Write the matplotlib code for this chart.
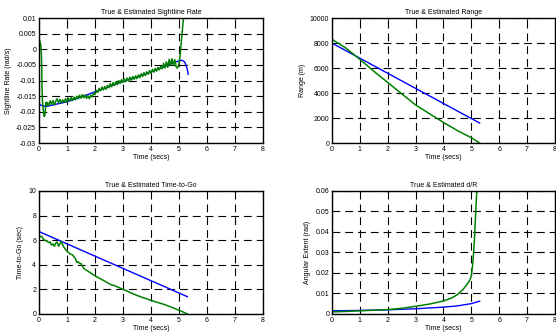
import matplotlib
matplotlib.use("Agg")
import matplotlib.pyplot as plt

plt.rcParams['font.family'] = ['Liberation Sans', 'DejaVu Sans']

# sightline rate
slr_true_t = [0, 0.02, 0.05, 0.07, 0.09, 0.1, 0.11, 0.13, 0.15, 0.17, 0.19, 0.21, 0.23, 0.25, 0.28,
              0.30, 0.35, 0.40, 0.45, 0.50, 0.55, 0.60, 0.65, 0.70, 0.75, 0.80, 0.85, 0.90, 0.95,
              1.00, 1.05, 1.10, 1.15, 1.20, 1.25, 1.30, 1.35, 1.40, 1.45, 1.50, 1.55, 1.60, 1.65,
              1.70, 1.75, 1.80, 1.85, 1.90, 1.95, 2.00, 2.05, 2.10, 2.15, 2.20, 2.25, 2.30, 2.35,
              2.40, 2.45, 2.50, 2.55, 2.60, 2.65, 2.70, 2.75, 2.80, 2.85, 2.90, 2.95, 3.00, 3.05,
              3.10, 3.15, 3.20, 3.25, 3.30, 3.35, 3.40, 3.45, 3.50, 3.55, 3.60, 3.65, 3.70, 3.75,
              3.80, 3.85, 3.90, 3.95, 4.00, 4.05, 4.10, 4.15, 4.20, 4.25, 4.30, 4.35, 4.40, 4.45,
              4.50, 4.55, 4.60, 4.65, 4.70, 4.75, 4.80, 4.85, 4.90, 4.95, 5.00, 5.03, 5.06, 5.10,
              5.14, 5.17]
slr_true = [0.0035, 0.003, 0.002, 0.001, -0.002, -0.006, -0.012, -0.017, -0.019, -0.0205, -0.0215,
            -0.021, -0.0195, -0.017, -0.0180,
            -0.0170, -0.0180, -0.0165, -0.0176, -0.0164, -0.0178, -0.0166, -0.0158, -0.0172, -0.0160,
            -0.0171, -0.0162, -0.0169, -0.0158, -0.0168, -0.0157, -0.0165, -0.0154, -0.0164, -0.0153,
            -0.0161, -0.0150, -0.0158, -0.0147, -0.0156, -0.0145, -0.0155, -0.0146, -0.0157, -0.0148,
            -0.0158, -0.0147, -0.0152, -0.0140, -0.0145, -0.0132, -0.0138, -0.0125, -0.0133, -0.0121,
            -0.0130, -0.0119, -0.0128, -0.0115, -0.0123, -0.0110, -0.0120, -0.0106, -0.0116, -0.0104,
            -0.0113, -0.0100, -0.0109, -0.0097, -0.0106, -0.0095, -0.0104, -0.0092, -0.0101, -0.0089,
            -0.0099, -0.0087, -0.0096, -0.0085, -0.0094, -0.0082, -0.0091, -0.0078, -0.0087, -0.0075,
            -0.0084, -0.0072, -0.0080, -0.0068, -0.0077, -0.0064, -0.0073, -0.0061, -0.0070, -0.0058,
            -0.0066, -0.0055, -0.0062, -0.0045, -0.0060, -0.0040, -0.0058, -0.0032, -0.0052, -0.0030,
            -0.0050, -0.0033, -0.0057, -0.0060, -0.0046, -0.003, 0.000, 0.004, 0.008, 0.011]
slr_est_t = [0, 0.1, 0.25, 0.5, 1, 1.5, 2, 2.5, 3, 3.5, 4, 4.5, 4.8, 5.0, 5.1, 5.2, 5.25, 5.3, 5.33]
slr_est = [-0.0175, -0.0180, -0.0183, -0.0178, -0.0168, -0.0153, -0.0136, -0.0119, -0.0103,
           -0.0089, -0.0072, -0.0055, -0.0043, -0.0037, -0.0035, -0.0040, -0.0050, -0.0065, -0.0080]

# range
rng_true_t = [0, 0.5, 1, 1.5, 2, 2.5, 3, 3.5, 4, 4.5, 5, 5.3]
rng_true = [8300, 7600, 6700, 5750, 4850, 3950, 3050, 2350, 1650, 1000, 430, 0]
rng_est_t = [0, 0, 5.3]
rng_est = [0, 8000, 1600]

# time-to-go
tgo_true_t = [0, 0.1, 0.15, 0.2, 0.3, 0.35, 0.4, 0.45, 0.5, 0.55, 0.6, 0.65, 0.7, 0.75, 0.8, 0.85,
              0.9, 1.0, 1.1, 1.2, 1.3, 1.35, 1.4, 1.45, 1.5, 1.6, 1.8, 2.0, 2.2, 2.4, 2.6, 2.7,
              2.8, 3.0, 3.2, 3.5, 4.0, 4.5, 5.0, 5.3]
tgo_true = [6.3, 6.3, 6.1, 6.0, 5.9, 5.8, 5.85, 5.6, 5.7, 5.5, 5.75, 5.85, 5.5, 5.7, 5.9, 5.6,
            5.4, 5.1, 4.9, 4.8, 4.5, 4.2, 4.25, 4.1, 4.1, 3.7, 3.4, 3.1, 2.85, 2.6, 2.35, 2.3,
            2.2, 2.0, 1.8, 1.5, 1.1, 0.75, 0.3, 0.0]
tgo_est_t = [0, 5.3]
tgo_est = [6.7, 1.4]

# angular extent d/R
ang_true_t = [0, 0.5, 1, 1.5, 2, 2.5, 3, 3.5, 4, 4.3, 4.5, 4.7, 4.85, 4.95, 5.0, 5.05, 5.1,
              5.13, 5.16, 5.19, 5.21]
ang_true = [0.001, 0.0012, 0.0015, 0.0018, 0.0021, 0.0027, 0.0037, 0.0048, 0.0063, 0.0078,
            0.0094, 0.0118, 0.0145, 0.0165, 0.0185, 0.024, 0.033, 0.041, 0.050, 0.058, 0.062]
ang_est_t = [0, 1, 2, 3, 4, 4.5, 5, 5.3]
ang_est = [0.0015, 0.0017, 0.002, 0.0025, 0.0033, 0.0039, 0.005, 0.0062]

BLUE = '#0000ff'
GREEN = '#008000'

fig = plt.figure(figsize=(5.56, 3.35), dpi=100)
boxes = [[0.070, 0.573, 0.403, 0.373], [0.597, 0.573, 0.401, 0.373],
         [0.070, 0.063, 0.403, 0.367], [0.597, 0.063, 0.401, 0.367]]

panels = [
    ("True & Estimated Sightline Rate", "Sightline Rate (rad/s)", slr_est_t, slr_est, slr_true_t, slr_true,
     (-0.03, 0.01), [-0.03, -0.025, -0.02, -0.015, -0.01, -0.005, 0, 0.005, 0.01],
     ['-0.03', '-0.025', '-0.02', '-0.015', '-0.01', '-0.005', '0', '0.005', '0.01']),
    ("True & Estimated Range", "Range (m)", rng_est_t, rng_est, rng_true_t, rng_true,
     (0, 10000), [0, 2000, 4000, 6000, 8000, 10000], ['0', '2000', '4000', '6000', '8000', '10000']),
    ("True & Estimated Time-to-Go", "Time-to-Go (sec)", tgo_est_t, tgo_est, tgo_true_t, tgo_true,
     (0, 10), [0, 2, 4, 6, 8, 10], ['0', '2', '4', '6', '8', '10']),
    ("True & Estimated d/R", "Angular Extent (rad)", ang_est_t, ang_est, ang_true_t, ang_true,
     (0, 0.06), [0, 0.01, 0.02, 0.03, 0.04, 0.05, 0.06],
     ['0', '0.01', '0.02', '0.03', '0.04', '0.05', '0.06']),
]

for box, (title, ylab, et, ev, tt, tv, ylim, yt, ytl) in zip(boxes, panels):
    ax = fig.add_axes(box)
    # estimate (blue) first, true (green) on top
    ax.plot(et, ev, color=BLUE, lw=1.0)
    ax.plot(tt, tv, color=GREEN, lw=1.1)
    ax.set_xlim(0, 8)
    ax.set_ylim(*ylim)
    ax.set_xticks(range(9))
    ax.set_yticks(yt)
    ax.set_yticklabels(ytl)
    ax.grid(True, color='black', linestyle=(0, (7, 4.5)), linewidth=0.8)
    ax.set_axisbelow(True)
    ax.tick_params(direction='in', length=2, width=0.6, labelsize=5, pad=2, top=True, right=True)
    for s in ax.spines.values():
        s.set_linewidth(1.0)
    ax.set_title(title, fontsize=5, pad=3)
    ax.set_xlabel("Time (secs)", fontsize=5, labelpad=1)
    ax.set_ylabel(ylab, fontsize=5, labelpad=3)

fig.savefig("out.png", dpi=100)
